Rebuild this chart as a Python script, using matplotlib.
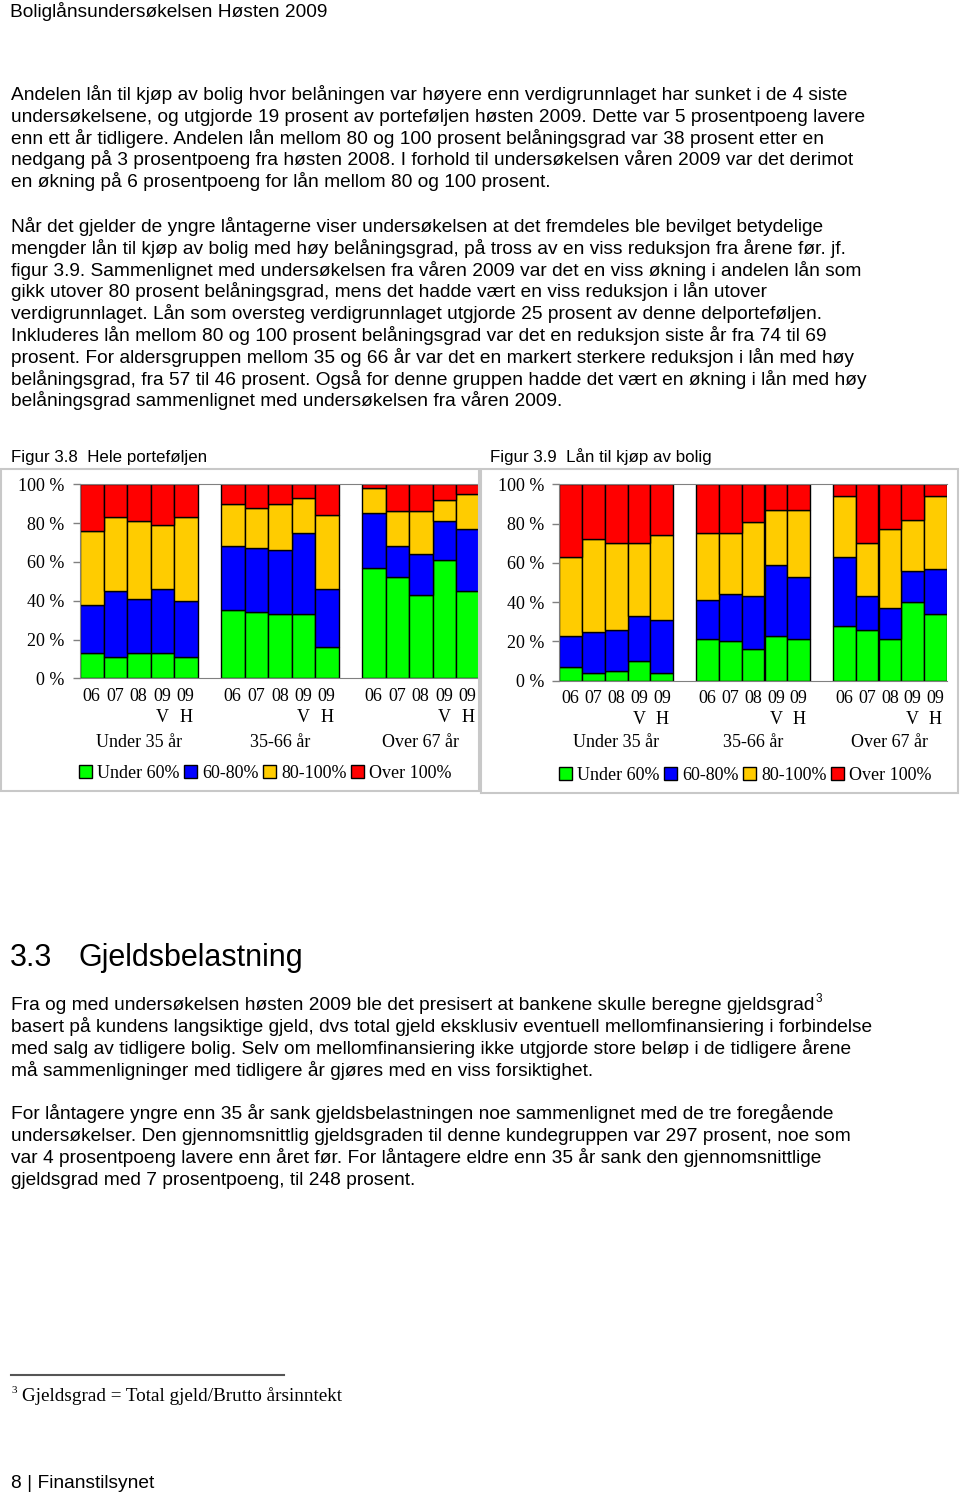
import matplotlib
matplotlib.use("Agg")
import matplotlib.pyplot as plt
from matplotlib import transforms
from matplotlib.patches import Rectangle

W, H = 960, 1493

# ---- data -------------------------------------------------------------
years = ["06", "07", "08", "09\nV", "09\nH"]
groups = ["Under 35 år", "35-66 år", "Over 67 år"]
bands = ["Under 60%", "60-80%", "80-100%", "Over 100%"]
colors = ["#00ff00", "#0000ff", "#ffcc00", "#ff0000"]

# Figur 3.8 Hele porteføljen (3 age groups x 5 surveys)
hele_under60 = [13, 11, 13, 13, 11, 35, 34, 33, 33, 16, 57, 52, 43, 61, 45]
hele_60_80 = [25, 34, 28, 33, 29, 33, 33, 33, 42, 30, 28, 16, 21, 20, 32]
hele_80_100 = [38, 38, 40, 33, 43, 22, 21, 24, 18, 38, 13, 18, 22, 11, 18]
hele_over100 = [24, 17, 19, 21, 17, 10, 12, 10, 7, 16, 2, 14, 14, 8, 5]

# Figur 3.9 Lån til kjøp av bolig
kjop_under60 = [7, 4, 5, 10, 4, 21, 20, 16, 23, 21, 28, 26, 21, 40, 34]
kjop_60_80 = [16, 21, 21, 23, 27, 20, 24, 27, 36, 32, 35, 17, 16, 16, 23]
kjop_80_100 = [40, 47, 44, 37, 43, 34, 31, 38, 28, 34, 31, 27, 40, 26, 37]
kjop_over100 = [37, 28, 30, 30, 26, 25, 25, 19, 13, 13, 6, 30, 23, 18, 6]

header = "Boliglånsundersøkelsen Høsten 2009"
para1 = [
    "Andelen lån til kjøp av bolig hvor belåningen var høyere enn verdigrunnlaget har sunket i de 4 siste",
    "undersøkelsene, og utgjorde 19 prosent av porteføljen høsten 2009. Dette var 5 prosentpoeng lavere",
    "enn ett år tidligere. Andelen lån mellom 80 og 100 prosent belåningsgrad var 38 prosent etter en",
    "nedgang på 3 prosentpoeng fra høsten 2008. I forhold til undersøkelsen våren 2009 var det derimot",
    "en økning på 6 prosentpoeng for lån mellom 80 og 100 prosent.",
]
para2 = [
    "Når det gjelder de yngre låntagerne viser undersøkelsen at det fremdeles ble bevilget betydelige",
    "mengder lån til kjøp av bolig med høy belåningsgrad, på tross av en viss reduksjon fra årene før. jf.",
    "figur 3.9. Sammenlignet med undersøkelsen fra våren 2009 var det en viss økning i andelen lån som",
    "gikk utover 80 prosent belåningsgrad, mens det hadde vært en viss reduksjon i lån utover",
    "verdigrunnlaget. Lån som oversteg verdigrunnlaget utgjorde 25 prosent av denne delporteføljen.",
    "Inkluderes lån mellom 80 og 100 prosent belåningsgrad var det en reduksjon siste år fra 74 til 69",
    "prosent. For aldersgruppen mellom 35 og 66 år var det en markert sterkere reduksjon i lån med høy",
    "belåningsgrad, fra 57 til 46 prosent. Også for denne gruppen hadde det vært en økning i lån med høy",
    "belåningsgrad sammenlignet med undersøkelsen fra våren 2009.",
]
para3 = [
    "Fra og med undersøkelsen høsten 2009 ble det presisert at bankene skulle beregne gjeldsgrad",
    "basert på kundens langsiktige gjeld, dvs total gjeld eksklusiv eventuell mellomfinansiering i forbindelse",
    "med salg av tidligere bolig. Selv om mellomfinansiering ikke utgjorde store beløp i de tidligere årene",
    "må sammenligninger med tidligere år gjøres med en viss forsiktighet.",
]
para4 = [
    "For låntagere yngre enn 35 år sank gjeldsbelastningen noe sammenlignet med de tre foregående",
    "undersøkelser. Den gjennomsnittlig gjeldsgraden til denne kundegruppen var 297 prosent, noe som",
    "var 4 prosentpoeng lavere enn året før. For låntagere eldre enn 35 år sank den gjennomsnittlige",
    "gjeldsgrad med 7 prosentpoeng, til 248 prosent.",
]

SANS = ["Liberation Sans", "DejaVu Sans"]
SERIF = ["Liberation Serif", "DejaVu Serif"]
plt.rcParams["font.family"] = SERIF
BODY = 13.75


def fx(px):
    return px / W


def fy(py):
    return 1 - py / H


def text_block(fig, lines, x, y0, step, size=BODY):
    for i, line in enumerate(lines):
        fig.text(fx(x), fy(y0 + i * step), line, family=SANS, fontsize=size,
                 va="baseline", ha="left")


def draw_chart(fig, rect, series, legend_xy, group_y):
    ax = fig.add_axes(rect)
    x = [g * 6 + i for g in range(len(groups)) for i in range(len(years))]
    bottom = [0] * len(x)
    for vals, col, lab in zip(series, colors, bands):
        ax.bar(x, vals, width=1.0, bottom=bottom, color=col,
               edgecolor="black", linewidth=1.0, label=lab)
        bottom = [b + v for b, v in zip(bottom, vals)]
    ax.set_xlim(-0.5, 16.5)
    ax.set_ylim(0, 100)
    ax.set_yticks(range(0, 101, 20))
    ax.set_yticklabels([f"{t} %" for t in range(0, 101, 20)])
    ax.set_xticks(x)
    ax.set_xticklabels(years * len(groups), linespacing=1.3)
    ax.tick_params(axis="y", length=5, width=1, color="#808080",
                   labelsize=13, pad=6)
    ax.tick_params(axis="x", length=0, labelsize=13, pad=7)
    for side in ["left", "top", "bottom"]:
        ax.spines[side].set_color("#808080")
    ax.spines["right"].set_visible(False)
    ax.patch.set_alpha(0)

    trans = transforms.blended_transform_factory(ax.transData, fig.transFigure)
    for g, name in enumerate(groups):
        ax.text(g * 6 + 2, fy(group_y), name, transform=trans, ha="center",
                va="baseline", fontsize=13)

    fig.legend(*ax.get_legend_handles_labels(), loc="center left",
               bbox_to_anchor=(fx(legend_xy[0]), fy(legend_xy[1])),
               ncol=4, frameon=False, fontsize=13, handlelength=0.7,
               handleheight=0.7, handletextpad=0.3, columnspacing=0.25,
               borderpad=0, borderaxespad=0)
    return ax


fig = plt.figure(figsize=(W / 100, H / 100), dpi=100)

fig.text(fx(10), fy(17), header, family=SANS, fontsize=13.8, va="baseline")

text_block(fig, para1, 11, 100, 21.8)
text_block(fig, para2, 11, 232, 21.8)

# figure captions
fig.text(fx(11), fy(462), "Figur 3.8  Hele porteføljen", family=SANS,
         fontsize=12.2, va="baseline")
fig.text(fx(490), fy(462), "Figur 3.9  Lån til kjøp av bolig", family=SANS,
         fontsize=12.2, va="baseline")

# chart frames
fig.patches.append(Rectangle((fx(1), fy(791)), fx(478), (791 - 469) / H,
                             transform=fig.transFigure, fill=False,
                             edgecolor="#c8c8c8", linewidth=1.5))
fig.patches.append(Rectangle((fx(481), fy(793)), fx(477), (793 - 469) / H,
                             transform=fig.transFigure, fill=False,
                             edgecolor="#c8c8c8", linewidth=1.5))

draw_chart(fig, [fx(80), fy(678.3), fx(399.5), (678.3 - 484.3) / H],
           [hele_under60, hele_60_80, hele_80_100, hele_over100],
           (79, 773), 747)
draw_chart(fig, [fx(559.3), fy(680.7), fx(387.6), (680.7 - 484.3) / H],
           [kjop_under60, kjop_60_80, kjop_80_100, kjop_over100],
           (559, 775), 747)

# section 3.3
fig.text(fx(10), fy(966), "3.3", family=SANS, fontsize=22, va="baseline")
fig.text(fx(78), fy(966), "Gjeldsbelastning", family=SANS, fontsize=22,
         va="baseline")

text_block(fig, para3, 11, 1010, 22)
text_block(fig, para4, 11, 1119, 22)

# superscript footnote marker after "gjeldsgrad"
fig.canvas.draw()
first = [t for t in fig.texts if t.get_text() == para3[0]][0]
bb = first.get_window_extent()
fig.text(fx(bb.x1 + 1), fy(1002), "3", family=SANS, fontsize=8.5,
         va="baseline")

# footnote
fig.add_artist(plt.Line2D([fx(11), fx(284)], [fy(1375), fy(1375)],
                          transform=fig.transFigure, color="#555555",
                          linewidth=1.5))
fig.text(fx(11), fy(1393), "3", fontsize=8, va="baseline")
fig.text(fx(22), fy(1401), "Gjeldsgrad = Total gjeld/Brutto årsinntekt",
         fontsize=13.75, va="baseline")

# page footer
fig.text(fx(11), fy(1488), "8 | Finanstilsynet", family=SANS, fontsize=13.8,
         va="baseline")

fig.savefig("out.png", dpi=100)
plt.close(fig)
